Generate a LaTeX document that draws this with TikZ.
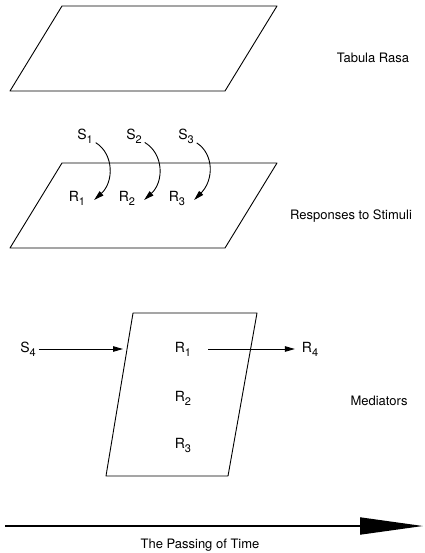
\documentclass[tikz,border=0pt]{standalone}
\usepackage{fontspec}
\setmainfont{TeX Gyre Heros}
\usetikzlibrary{arrows.meta,positioning}
\newcommand{\idx}[2]{#1\raisebox{-0.55ex}{\fontsize{11}{11}\selectfont #2}}

\begin{document}
\begin{tikzpicture}[x=1pt,y=-1pt,
    plane/.style={draw,line width=0.9pt,line join=round},
    lab/.style={font=\fontsize{13}{15}\selectfont},
    sym/.style={font=\fontsize{14}{16}\selectfont,inner sep=1pt,outer sep=2pt},
    link/.style={line width=0.9pt,-{Triangle[length=10pt,width=5.5pt]}},
    timeline/.style={line width=1.8pt,-{Triangle[length=63pt,width=17pt]}}]
    \useasboundingbox (0,0) rectangle (424,553);
    % tabula rasa
    \draw[plane] (62,6) -- (277,6) -- (225,91) -- (10,91) -- cycle;
    \node[lab] (tabula) at (373,58) {Tabula Rasa};
    % responses to stimuli
    \draw[plane] (62,163) -- (277,163) -- (225,248) -- (10,248) -- cycle;
    \node[lab] (resp) at (351,216) {Responses to Stimuli};
    \node[sym] (s1) at (85,136) {\idx{S}{1}};
    \node[sym] (s2) at (134,136) {\idx{S}{2}};
    \node[sym] (s3) at (186,136) {\idx{S}{3}};
    \node[sym] (r1) at (77,198) {\idx{R}{1}};
    \node[sym] (r2) at (127,198) {\idx{R}{2}};
    \node[sym] (r3) at (177,198) {\idx{R}{3}};
    \draw[link] (s1) .. controls (114,154) and (114,182) .. ([xshift=6pt,yshift=-2pt]r1.east);
    \draw[link] (s2) .. controls (164,154) and (164,182) .. ([xshift=6pt,yshift=-2pt]r2.east);
    \draw[link] (s3) .. controls (214,154) and (214,180) .. ([xshift=6pt,yshift=-2pt]r3.east);
    % mediators
    \draw[plane] (133,313) -- (257,313) -- (228,476) -- (106,476) -- cycle;
    \node[lab] (med) at (379,401) {Mediators};
    \node[sym] (s4) at (28,349) {\idx{S}{4}};
    \node[sym] (m1) at (183,349) {\idx{R}{1}};
    \node[sym] (m2) at (183,398) {\idx{R}{2}};
    \node[sym] (m3) at (183,445) {\idx{R}{3}};
    \node[sym] (r4) at (310,349) {\idx{R}{4}};
    \coordinate (edge) at (123,349);
    \draw[link] (s4) -- (edge);
    \draw[link,shorten <=14pt,shorten >=4pt] (m1) -- (r4);
    % time
    \coordinate (t0) at (5,526);
    \coordinate (t1) at (423,526);
    \draw[timeline] (t0) -- (t1);
    \node[lab] (time) at (200,545) {The Passing of Time};
\end{tikzpicture}
\end{document}
